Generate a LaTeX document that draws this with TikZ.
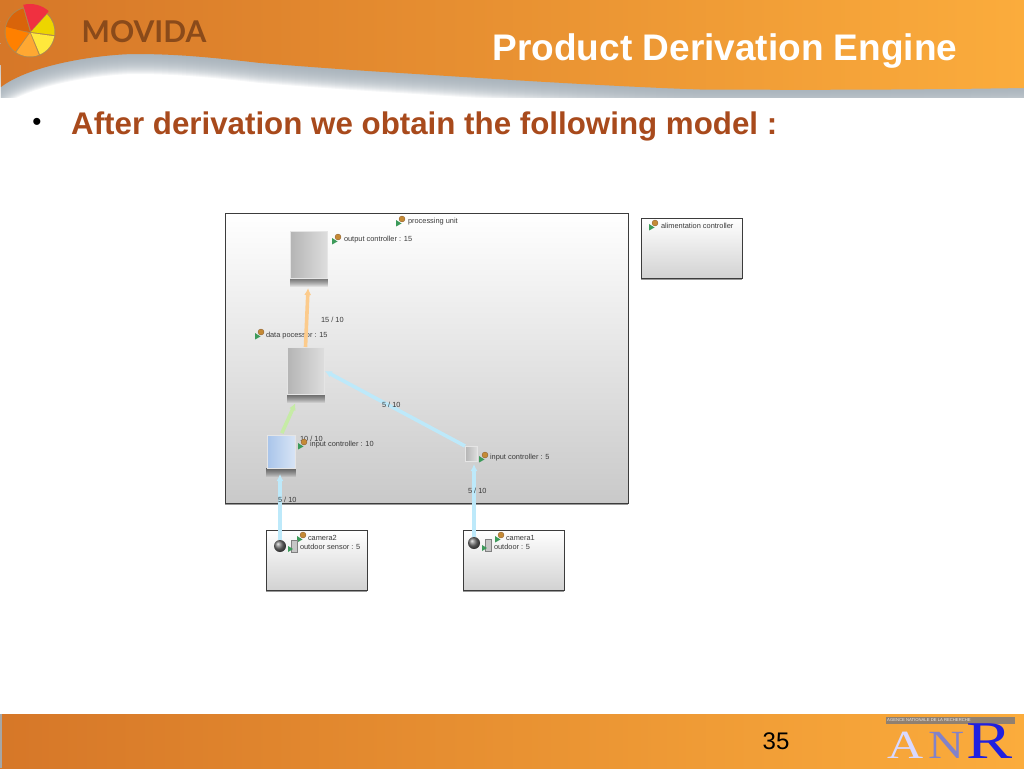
\documentclass[tikz,border=0pt]{standalone}
\usepackage{fontspec}
\setmainfont{Liberation Sans}
\newfontfamily\anrfont{Liberation Serif}
\newfontfamily\brandfont{Lato}
\usetikzlibrary{arrows.meta}
\definecolor{HeadLeft}{HTML}{D67728}
\definecolor{HeadRight}{HTML}{FBAC3C}
\definecolor{HeadShadow}{HTML}{A2ADB6}
\definecolor{TitleBrown}{HTML}{A84A1C}
\definecolor{BrandBrown}{HTML}{8A4A1A}
\definecolor{Frame}{HTML}{3C3C3C}
\definecolor{Ink}{HTML}{3A3A3A}
\definecolor{FlowBlue}{HTML}{BDE9FA}
\definecolor{FlowOrange}{HTML}{FCCB8C}
\definecolor{FlowGreen}{HTML}{C6EBA6}
\definecolor{CompGrey}{HTML}{B4B4B4}
\definecolor{CompBlue}{HTML}{A8C4EA}
\definecolor{UnitLow}{HTML}{C9C9C9}
\definecolor{BoxLow}{HTML}{D2D2D2}
\definecolor{MarkGreen}{HTML}{3C9A5A}
\definecolor{MarkTan}{HTML}{C58A35}
\definecolor{PieRing}{HTML}{B08850}
\definecolor{PieDark}{HTML}{D9640A}
\definecolor{PieRed}{HTML}{F03040}
\definecolor{PieYellow}{HTML}{EDD500}
\definecolor{PieLemon}{HTML}{FFE83C}
\definecolor{PieAmber}{HTML}{FFA832}
\definecolor{PieOrange}{HTML}{FF8000}
\newcommand{\headerpath}{(0,0) -- (1024,0) -- (1024,88) .. controls (900,90) and (800,90) .. (700,89.5) .. controls (600,86) and (480,78) .. (400,73) .. controls (350,70) and (310,67) .. (260,63) .. controls (200,56) and (170,54) .. (133,54) .. controls (95,55) and (30,65) .. (1,87) -- cycle}
\begin{document}
\begin{tikzpicture}[x=1pt,y=-1pt,
  unitbox/.style={draw=Frame,line width=0.9pt,top color=white,bottom color=#1,inner sep=0pt,outer sep=0pt},
  unitbox/.default={BoxLow},
  compbox/.style={inner sep=0pt,outer sep=0pt,draw=white!80!gray,line width=0.4pt,shade,shading angle=45,left color=#1,right color=#1!45!white},
  spherenode/.style={circle,inner sep=0pt,outer sep=0pt,minimum size=12pt,shade,ball color=black!55},
  lbl/.style={anchor=west,inner sep=0pt,outer sep=0pt,text=Ink,font=\fontsize{7.4}{9}\selectfont},
  anrletter/.style={inner sep=0pt,anchor=base,transform shape,text=#1},
  flow/.style={-{Latex[length=7pt,width=7pt]},line width=3.6pt,draw=#1},
  marker/.pic={
    \fill[MarkGreen] (-6,1) -- (-0.5,4.5) -- (-6,7.5) -- cycle;
    \fill[MarkTan,draw=brown!70!black,line width=0.3pt] (0,0) circle (3pt);
  },
  device/.pic={
    \fill[gray!45,draw=gray,line width=0.3pt] (-3,-6) rectangle (3,6);
    \fill[MarkGreen] (-6,0) -- (-1,3) -- (-6,6) -- cycle;
  },
  dropshade/.pic={
    \foreach \h in {1,...,9}
      \fill[black,opacity=0.08] (-#1-1,0) rectangle (#1+1,\h);
  }
]
\useasboundingbox (0,0) rectangle (1024,768);
% header and footer
\begin{scope}
\clip (0,0) rectangle (1024,97);
\foreach \d in {1,...,20}
  \fill[HeadShadow,opacity=0.11,shift={(0,\d)}] \headerpath;
\end{scope}
\shade[left color=HeadLeft,right color=HeadRight] \headerpath;
\shade[left color=HeadLeft,right color=HeadRight] (0,714) rectangle (1024,768);
\fill[gray!70] (0,714) rectangle (2,768);
% logo
\begin{scope}[shift={(30,32)},y=1pt]
\fill[PieRing] (0,0) circle (25.5);
\fill[PieDark] (0,0) -- (170:24.5) arc (170:106:24.5) -- cycle;
\fill[PieRed] (1,1) -- (104:28) arc (104:48:28) -- cycle;
\fill[PieYellow] (1,0) -- (46:24.5) arc (46:-7:24.5) -- cycle;
\fill[PieLemon] (1,-1) -- (-10:24.5) arc (-10:-66:24.5) -- cycle;
\fill[PieAmber] (0,-1) -- (-69:24.5) arc (-69:-124:24.5) -- cycle;
\fill[PieOrange] (-1,-1) -- (-127:24.5) arc (-127:-192:24.5) -- cycle;
\end{scope}
\node[inner sep=0pt,text=BrandBrown,font=\brandfont\fontsize{30}{32}\selectfont\bfseries] (brand) at (144,32) {MOVIDA};
\node[inner sep=0pt,text=white,font=\fontsize{37}{39}\selectfont\bfseries] (title) at (725,51) {Product Derivation Engine};
\node[inner sep=0pt,font=\fontsize{26}{28}\selectfont] (bullet) at (37,124) {•};
\node[inner sep=0pt,anchor=west,text=TitleBrown,font=\fontsize{31.3}{34}\selectfont\bfseries] (heading) at (71,126) {After derivation we obtain the following model :};
\node[inner sep=0pt,font=\fontsize{24}{26}\selectfont] (pagenum) at (776,741) {35};
% agency mark
\fill[gray!75!brown] (886,717) rectangle (1015,724);
\node[inner sep=0pt,anchor=west,text=white!85!gray,font=\fontsize{4.2}{5}\selectfont] (agency) at (887,720.5) {AGENCE NATIONALE DE LA RECHERCHE};
\node[anrletter=white!85!blue,yscale=0.8,font=\anrfont\fontsize{50}{52}\selectfont] (anrA) at (906,758) {A};
\node[anrletter=blue!40!gray!70!white,yscale=0.8,font=\anrfont\fontsize{50}{52}\selectfont] (anrN) at (947,758) {N};
\node[anrletter=blue!75!gray,xscale=1.08,yscale=0.83,font=\anrfont\fontsize{64}{66}\selectfont] (anrR) at (990,758) {R};
% containers
\node[unitbox=UnitLow,minimum width=403pt,minimum height=290pt] (punit) at (426.5,358) {};
\node[unitbox,minimum width=101pt,minimum height=60pt] (alim) at (691.5,248) {};
\node[unitbox,minimum width=101pt,minimum height=60pt] (cam2) at (316.5,560) {};
\node[unitbox,minimum width=101pt,minimum height=60pt] (cam1) at (513.5,560) {};
\foreach \b in {punit,alim,cam2,cam1}
  \draw[black!40,line width=1pt] ([yshift=-1pt]\b.south west) -- ([yshift=-1pt]\b.south east);
% components
\pic at (308.5,278) {dropshade=18};
\pic at (305.5,394) {dropshade=18};
\pic at (281,468) {dropshade=14};
\node[compbox=CompGrey,minimum width=37pt,minimum height=47pt] (outctrl) at (308.5,254.5) {};
\node[compbox=CompGrey,minimum width=37pt,minimum height=47pt] (dataproc) at (305.5,370.5) {};
\node[compbox=CompBlue,minimum width=28pt,minimum height=33pt] (inten) at (281,451.5) {};
\node[compbox=CompGrey,minimum width=12pt,minimum height=15pt] (infive) at (471,453.5) {};
\node[spherenode] (sph2) at (280,546) {};
\node[spherenode] (sph1) at (474,543) {};
% flows
\pic at (261,332) {marker};
\node[lbl] (ldata) at (266,336) {data pocessor : 15};
\draw[flow=FlowOrange,shorten >=10pt] (dataproc.north) -- (outctrl.south);
\draw[flow=FlowGreen,shorten >=10pt,shorten <=2pt] (inten.north) -- ([xshift=-6pt]dataproc.south);
\draw[flow=FlowBlue,shorten >=1pt] (infive.north west) -- (dataproc.east);
\draw[flow=FlowBlue,shorten >=6pt] (sph2.north) -- (inten.south -| sph2.north);
\draw[flow=FlowBlue,shorten >=3pt] (sph1.north) -- (infive.south -| sph1.north);
% labels
\pic at (402,219) {marker};
\node[lbl] (lpunit) at (408,222) {processing unit};
\pic at (338,237) {marker};
\node[lbl] (louter) at (344,239.5) {output controller : 15};
\node[lbl] (lflow1) at (321,320) {15 / 10};
\node[lbl] (lflow2) at (382,404.5) {5 / 10};
\node[lbl] (lflow3) at (300,438.5) {10 / 10};
\pic at (304,442) {marker};
\node[lbl] (linten) at (310,445) {input controller : 10};
\pic at (485,455) {marker};
\node[lbl] (linfive) at (490,458) {input controller : 5};
\node[lbl] (lflow4) at (278,499.5) {5 / 10};
\node[lbl] (lflow5) at (468,491) {5 / 10};
\pic at (303,535) {marker};
\pic at (294,546) {device};
\node[lbl] (lcam2) at (308,537.5) {camera2};
\node[lbl] (lsens2) at (300,546.5) {outdoor sensor : 5};
\pic at (501,535) {marker};
\pic at (488,545) {device};
\node[lbl] (lcam1) at (506,537.5) {camera1};
\node[lbl] (lsens1) at (494,546.5) {outdoor : 5};
\pic at (655,223) {marker};
\node[lbl] (lalim) at (661,225.5) {alimentation controller};
\end{tikzpicture}
\end{document}
